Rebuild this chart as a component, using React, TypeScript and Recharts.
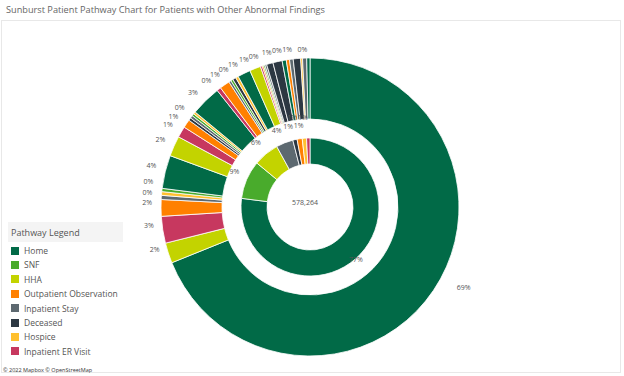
import React from "react";
import { PieChart, Pie, Cell } from "recharts";

const TOTAL = 578264;

const categories = [
  "Home",
  "SNF",
  "HHA",
  "Outpatient Observation",
  "Inpatient Stay",
  "Deceased",
  "Hospice",
  "Inpatient ER Visit",
];

const categoryColors: Record<string, string> = {
  Home: "#016a47",
  SNF: "#49ab2c",
  HHA: "#c3d300",
  "Outpatient Observation": "#ff8000",
  "Inpatient Stay": "#5d6970",
  Deceased: "#2c3742",
  Hospice: "#ffc02e",
  "Inpatient ER Visit": "#c7385f",
};

// first step after the index visit (% of all patients)
const firstStepNames = ["Home", "SNF", "HHA", "Inpatient Stay", "Deceased", "Outpatient Observation", "Hospice", "Inpatient ER Visit"];
const firstStepShares = [77, 9, 6, 4, 1, 1.2, 1, 0.8];

// second step, grouped by first step: [parent, child, share %]
const secondStep: [string, string, number][] = [
  ["Home", "Home", 68.9],
  ["Home", "HHA", 2.2],
  ["Home", "Inpatient ER Visit", 2.9],
  ["Home", "Outpatient Observation", 1.8],
  ["Home", "Inpatient Stay", 0.45],
  ["Home", "Hospice", 0.4],
  ["Home", "SNF", 0.35],

  ["SNF", "Home", 3.6],
  ["SNF", "HHA", 2.2],
  ["SNF", "Inpatient ER Visit", 1.2],
  ["SNF", "Outpatient Observation", 0.9],
  ["SNF", "Deceased", 0.3],
  ["SNF", "Inpatient Stay", 0.3],
  ["SNF", "SNF", 0.25],
  ["SNF", "Hospice", 0.25],

  ["HHA", "Home", 3.3],
  ["HHA", "Inpatient ER Visit", 0.45],
  ["HHA", "Outpatient Observation", 1.1],
  ["HHA", "Inpatient Stay", 0.25],
  ["HHA", "SNF", 0.25],
  ["HHA", "Deceased", 0.35],
  ["HHA", "Hospice", 0.3],

  ["Inpatient Stay", "Home", 1.4],
  ["Inpatient Stay", "HHA", 1.2],
  ["Inpatient Stay", "Inpatient ER Visit", 0.2],
  ["Inpatient Stay", "Outpatient Observation", 0.15],
  ["Inpatient Stay", "SNF", 0.15],
  ["Inpatient Stay", "Inpatient Stay", 0.2],
  ["Inpatient Stay", "Deceased", 0.7],

  ["Deceased", "Deceased", 1.0],

  ["Outpatient Observation", "Home", 0.45],
  ["Outpatient Observation", "Outpatient Observation", 0.35],
  ["Outpatient Observation", "Inpatient Stay", 0.4],

  ["Hospice", "Deceased", 0.8],
  ["Hospice", "Hospice", 0.2],

  ["Inpatient ER Visit", "Inpatient Stay", 0.45],
  ["Inpatient ER Visit", "Home", 0.35],
];

const innerData = firstStepNames.map((name, i) => ({ name, value: firstStepShares[i] }));
const outerData = secondStep.map(([parent, child, value]) => ({ name: `${parent} > ${child}`, child, value }));

const CX = 305;
const CY = 202;
const RAD = Math.PI / 180;
const FONT = "'Open Sans', 'DejaVu Sans', sans-serif";

// outer labels: nudge crowded ones clockwise, drop them if the nudge gets too big
function placeOuterLabels(values: number[], radius: number, minGap: number, maxShift: number) {
  const sum = values.reduce((a, b) => a + b, 0);
  const gapDeg = minGap / (radius * RAD);
  let acc = 0;
  let last = -Infinity;
  return values.map((v) => {
    const mid = ((acc + v / 2) / sum) * 360;
    acc += v;
    const angle = Math.max(mid, last + gapDeg);
    if (angle - mid > maxShift) return null;
    last = angle;
    return angle;
  });
}

// inner labels: crowded ones are pushed a bit further out
function placeInnerLabels(values: number[], radius: number, minGap: number) {
  const sum = values.reduce((a, b) => a + b, 0);
  let acc = 0;
  let prev: [number, number] | null = null;
  return values.map((v) => {
    const mid = ((acc + v / 2) / sum) * 360;
    acc += v;
    let r = radius;
    let x = CX + r * Math.sin(mid * RAD);
    let y = CY - r * Math.cos(mid * RAD);
    if (prev && Math.hypot(x - prev[0], y - prev[1]) < minGap) {
      r = radius + 8;
      x = CX + r * Math.sin(mid * RAD);
      y = CY - r * Math.cos(mid * RAD);
    }
    prev = [x, y];
    return [x, y] as [number, number];
  });
}

const outerLabelAngles = placeOuterLabels(outerData.map((d) => d.value), 155, 10.5, 1.6);
const innerLabelPos = placeInnerLabels(innerData.map((d) => d.value), 77, 8);

const pct = (v: number) => `${Math.round(v)}%`;

function OuterLabel(props: any) {
  const { outerRadius, index, value } = props;
  const angle = outerLabelAngles[index];
  if (angle == null) return null;
  const r = outerRadius + 4;
  let x = CX + r * Math.sin(angle * RAD);
  const y = CY - r * Math.cos(angle * RAD);
  const anchor = x > CX + 6 ? "start" : x < CX - 6 ? "end" : "middle";
  if (anchor === "start") x += 25;
  return (
    <text x={x} y={y} textAnchor={anchor} dominantBaseline="central" fontSize={7} fill="#555" fontFamily={FONT}>
      {pct(value)}
    </text>
  );
}

function InnerLabel(props: any) {
  const { index, value } = props;
  const [x, y] = innerLabelPos[index];
  return (
    <text x={x} y={y} textAnchor="middle" dominantBaseline="central" fontSize={7} fill="#555" fontFamily={FONT}>
      {pct(value)}
    </text>
  );
}

export default function App() {
  return (
    <div style={{ position: "fixed", left: 0, top: 0, width: 624, height: 376, background: "#fff", fontFamily: FONT }}>
      <div style={{ position: "absolute", left: 6, top: 3, fontSize: 9.2, color: "#666", whiteSpace: "nowrap" }}>
        Sunburst Patient Pathway Chart for Patients with Other Abnormal Findings
      </div>
      <div style={{ position: "absolute", left: 1, top: 20, width: 620, height: 353, border: "1px solid #e8e8e8", boxSizing: "border-box" }} />
      <div style={{ position: "absolute", left: 0, top: 0 }}>
        <PieChart width={624} height={376}>
          <Pie
            data={outerData}
            dataKey="value"
            cx={CX}
            cy={CY}
            innerRadius={88}
            outerRadius={149}
            startAngle={90}
            endAngle={-270}
            stroke="#fff"
            strokeWidth={0.8}
            label={OuterLabel}
            labelLine={false}
            isAnimationActive={false}
          >
            {outerData.map((d) => (
              <Cell key={d.name} fill={categoryColors[d.child]} />
            ))}
          </Pie>
          <Pie
            data={innerData}
            dataKey="value"
            cx={CX}
            cy={CY}
            innerRadius={43}
            outerRadius={69}
            startAngle={90}
            endAngle={-270}
            stroke="#fff"
            strokeWidth={0.8}
            label={InnerLabel}
            labelLine={false}
            isAnimationActive={false}
          >
            {innerData.map((d) => (
              <Cell key={d.name} fill={categoryColors[d.name]} />
            ))}
          </Pie>
          <text x={CX} y={CY} textAnchor="middle" dominantBaseline="central" fontSize={7} fill="#555" fontFamily={FONT}>
            {TOTAL.toLocaleString("en-US")}
          </text>
        </PieChart>
      </div>
      <div style={{ position: "absolute", left: 8, top: 222, width: 115, height: 20, background: "#f4f4f4" }} />
      <div style={{ position: "absolute", left: 11, top: 226, fontSize: 9, color: "#555" }}>Pathway Legend</div>
      {categories.map((c, i) => (
        <div key={c} style={{ position: "absolute", left: 11, top: 245 + i * 14.4, display: "flex", alignItems: "center", fontSize: 8.5, color: "#555", whiteSpace: "nowrap" }}>
          <span style={{ display: "inline-block", width: 8, height: 8, background: categoryColors[c], marginRight: 5 }} />
          {c}
        </div>
      ))}
      <div style={{ position: "absolute", left: 3, top: 366, fontSize: 5.5, color: "#333" }}>© 2022 Mapbox © OpenStreetMap</div>
    </div>
  );
}
